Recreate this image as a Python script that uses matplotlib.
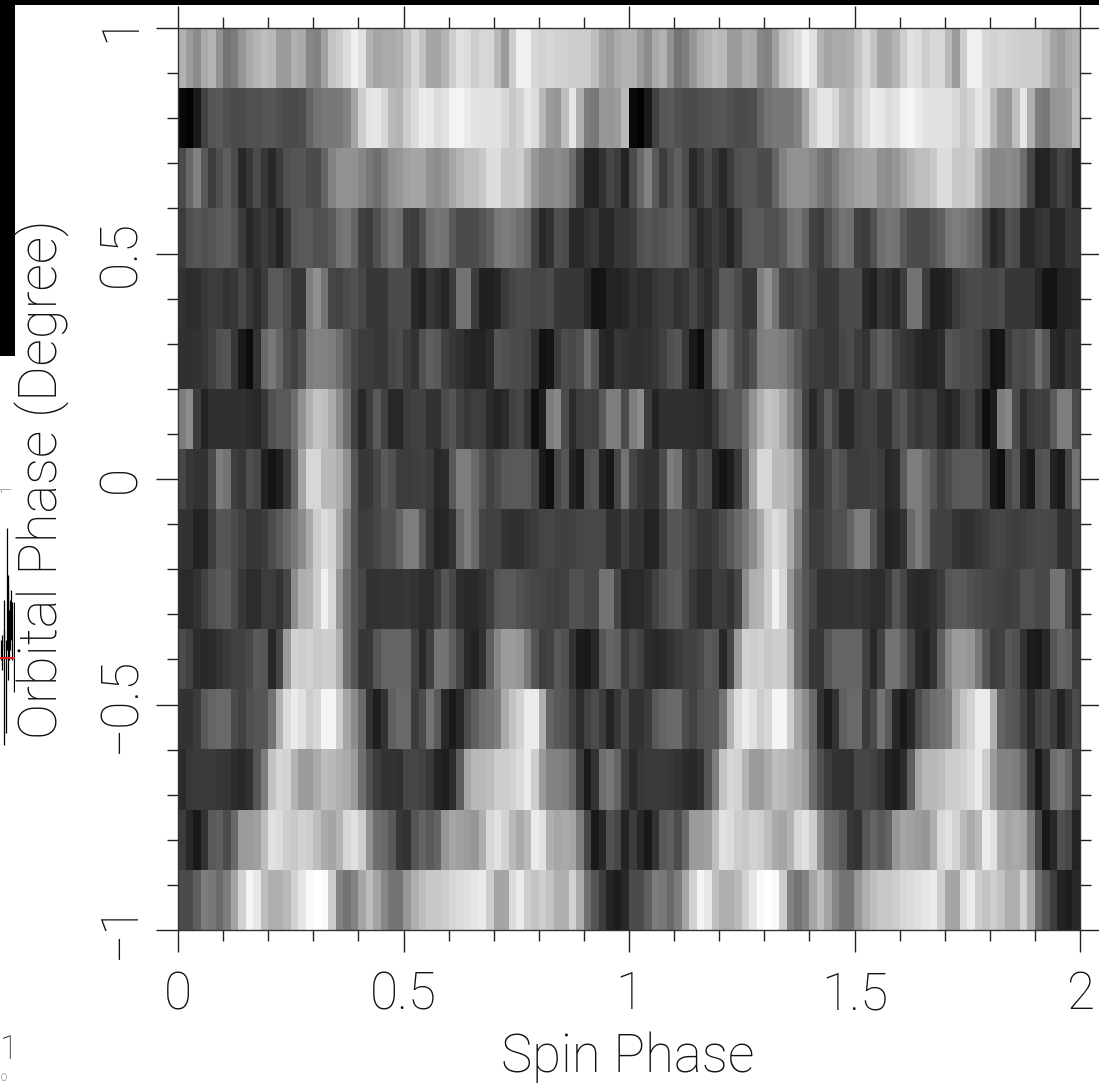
import matplotlib
matplotlib.use("Agg")
import matplotlib.pyplot as plt
import numpy as np
from matplotlib.patches import Rectangle
from matplotlib.ticker import MultipleLocator

W, H = 1099, 1084

# gray level of each spin phase bin, top row (orbital phase 1) first
row_00 = [178,155,140,170,180,145,115,125,150,170,180,190,185,155,155,175,170,135,130,160,195,205,220,240,225,180,165,170,170,175,195,215,195,165,165,180,205,225,220,205,215,215,185,155,205,240,240,215,210,215,210,208,205,205,205,190,165,155,170,178]
row_01 = [8,2,25,65,85,90,80,75,75,80,80,85,85,80,75,75,78,100,115,120,120,120,130,165,205,228,230,215,185,180,205,220,235,232,220,225,242,245,235,228,225,225,225,215,200,210,230,220,185,155,150,190,230,175,125,120,150,150,155,185]
row_02 = [75,105,130,90,60,80,95,75,40,55,75,55,40,60,80,85,85,75,75,100,130,145,148,145,135,120,110,125,145,150,160,165,165,145,140,150,165,180,190,190,200,220,220,200,200,205,180,150,135,135,140,135,110,70,35,35,50,70,60,35]
row_03 = [60,80,85,80,85,92,95,85,60,40,50,60,50,35,55,85,90,90,80,80,90,115,120,100,65,60,80,100,115,110,65,60,80,110,118,115,90,75,75,75,85,95,120,125,120,110,100,65,40,50,80,75,40,40,50,55,40,40,55,55]
row_04 = [50,45,45,55,60,60,50,55,70,55,45,60,90,90,75,55,55,125,145,115,70,65,75,80,70,55,55,55,75,75,75,40,32,55,48,38,60,115,115,60,32,32,38,58,70,75,75,70,70,75,55,55,55,55,40,20,20,35,35,40]
row_05 = [48,48,50,55,65,80,85,55,25,12,50,105,120,100,75,65,80,125,130,130,125,110,90,70,60,60,55,55,70,75,60,50,80,95,90,65,55,50,40,35,35,45,85,80,75,75,70,50,18,22,60,75,72,80,110,85,40,35,55,50]
row_06 = [125,140,60,35,48,48,48,48,48,45,40,55,80,90,90,110,145,175,195,190,170,140,110,65,40,60,90,65,40,40,60,65,65,50,50,75,85,65,55,62,62,42,35,42,65,70,50,15,30,125,135,75,45,60,65,62,90,125,125,75]
row_07 = [70,55,50,50,75,125,115,62,55,78,72,32,20,30,55,100,165,215,215,185,185,175,145,85,55,55,70,90,80,60,60,62,65,60,40,45,90,125,125,105,85,65,75,88,90,90,90,70,25,15,70,85,35,25,80,85,35,25,70,115]
row_08 = [50,50,35,35,60,85,85,75,65,55,55,60,75,90,105,120,140,170,205,220,210,170,125,85,60,62,70,80,80,100,125,125,85,55,35,38,50,105,125,105,68,65,65,52,48,48,55,60,68,70,65,62,65,70,72,72,70,48,48,65]
row_09 = [42,42,50,65,80,90,92,75,55,45,45,60,60,50,70,140,175,180,205,240,215,150,110,85,70,50,50,52,52,52,55,50,45,45,60,85,70,45,40,42,48,60,85,90,90,80,75,70,68,65,62,65,80,80,72,72,115,115,70,40]
row_10 = [75,65,45,40,42,50,58,65,65,72,90,85,40,70,155,210,205,210,200,205,205,175,110,85,55,55,85,100,100,100,100,65,40,65,115,115,95,70,42,35,50,95,135,155,155,150,120,85,62,65,88,80,50,28,25,40,85,100,95,60]
row_11 = [50,50,60,90,100,105,105,75,65,80,85,85,115,180,220,235,225,205,215,245,245,205,165,140,105,50,30,50,95,105,105,60,75,115,90,40,25,40,75,95,110,115,125,170,195,210,235,235,175,100,90,85,65,45,65,75,60,35,55,75]
row_12 = [42,55,58,58,58,55,52,45,40,48,85,125,195,215,210,180,155,155,170,190,185,175,170,155,110,80,60,50,50,48,70,70,65,55,35,30,45,95,165,185,185,190,205,205,210,220,235,205,155,130,130,125,105,60,25,50,110,120,100,60]
row_13 = [60,40,25,50,90,95,75,105,155,155,160,190,225,220,205,200,210,205,190,170,165,180,215,225,205,145,110,105,90,55,50,85,100,90,100,150,165,160,155,150,175,215,225,210,185,170,185,235,225,175,165,170,165,125,70,25,40,80,70,35]
row_14 = [75,75,95,125,120,105,125,165,210,245,232,190,175,175,185,210,230,250,255,250,205,130,115,130,165,190,165,135,115,115,150,175,190,200,200,205,215,220,225,230,235,205,165,165,220,235,205,195,205,195,175,175,210,170,110,85,60,35,28,40]

x_ticks = [0, 0.5, 1, 1.5, 2]
x_labels = ["0", "0.5", "1", "1.5", "2"]
y_ticks = [-1, -0.5, 0, 0.5, 1]
y_labels = ["\u22121", "\u22120.5", "0", "0.5", "1"]

# leftovers of the neighbouring panel at the left edge of the page
seg_x = [6.5, 3.5, 5.5, 13.5, 8, 10, 12, 4, 7.5, 9, 11, 2, 0.8]
seg_top = [528, 630, 640, 602, 583, 600, 602, 600, 575, 610, 590, 635, 640]
seg_bot = [650, 745, 733, 692, 680, 650, 660, 650, 640, 660, 640, 670, 660]

plt.rcParams["font.family"] = ["Roboto", "DejaVu Sans"]
plt.rcParams["font.weight"] = "light"

fig = plt.figure(figsize=(W / 100, H / 100), dpi=100, facecolor="white")
ax = fig.add_axes([178 / W, 1 - 930 / H, 902 / W, 902 / H])

rows = [row_00, row_01, row_02, row_03, row_04, row_05, row_06, row_07,
        row_08, row_09, row_10, row_11, row_12, row_13, row_14]
cycle = np.array(rows)
# two spin cycles are shown
phase_map = np.hstack([cycle, cycle])
ax.imshow(phase_map, cmap="gray", vmin=0, vmax=255, extent=[0, 2, -1, 1],
          aspect="auto", interpolation="nearest")

ax.set_xticks(x_ticks, x_labels)
ax.set_yticks(y_ticks, y_labels)
ax.xaxis.set_minor_locator(MultipleLocator(0.1))
ax.yaxis.set_minor_locator(MultipleLocator(0.1))
ax.tick_params(which="major", direction="out", top=True, right=True, length=16,
               width=1.0, color="#222222", labelsize=37, labelcolor="#111111", pad=13)
ax.tick_params(which="minor", direction="out", top=True, right=True, length=8,
               width=1.0, color="#222222")
ax.tick_params(axis="y", which="major", labelrotation=90, pad=7)
for lab in ax.get_yticklabels():
    lab.set_va("center")
for sp in ax.spines.values():
    sp.set_linewidth(1.0)
    sp.set_color("#333333")

fig.text(628 / W, 1 - 1072 / H, "Spin Phase", fontsize=38, color="#111111", ha="center", va="baseline")
fig.text(42 / W, 1 - 479 / H, "Orbital Phase (Degree)", fontsize=39, color="#111111",
         rotation=90, ha="center", va="center")

# black bands along the top and the left edge
fig.add_artist(Rectangle((0, 1 - 5 / H), 1, 5 / H, transform=fig.transFigure, color="black", lw=0))
fig.add_artist(Rectangle((0, 1 - 356 / H), 15 / W, 356 / H, transform=fig.transFigure, color="black", lw=0))

side = fig.add_axes([0, 1 - 760 / H, 15 / W, 290 / H])
side.set_xlim(0, 15)
side.set_ylim(760, 470)
side.axis("off")
side.vlines(seg_x, seg_top, seg_bot, color="black", lw=0.9)
side.vlines([14.5], [560], [670], color="#888888", lw=0.6)
side.hlines([658], 0, 15, color="#e02020", lw=1.5)

fig.text(14 / W, 1 - 488 / H, "1", fontsize=10, color="#111111", rotation=90, ha="right", va="center")
fig.text(0, 1 - 1050 / H, "1", fontsize=24, color="#111111", ha="left", va="center")
fig.text(0, 1 - 1078 / H, "0", fontsize=8, color="#111111", ha="left", va="center")

fig.savefig("out.png", dpi=100)
